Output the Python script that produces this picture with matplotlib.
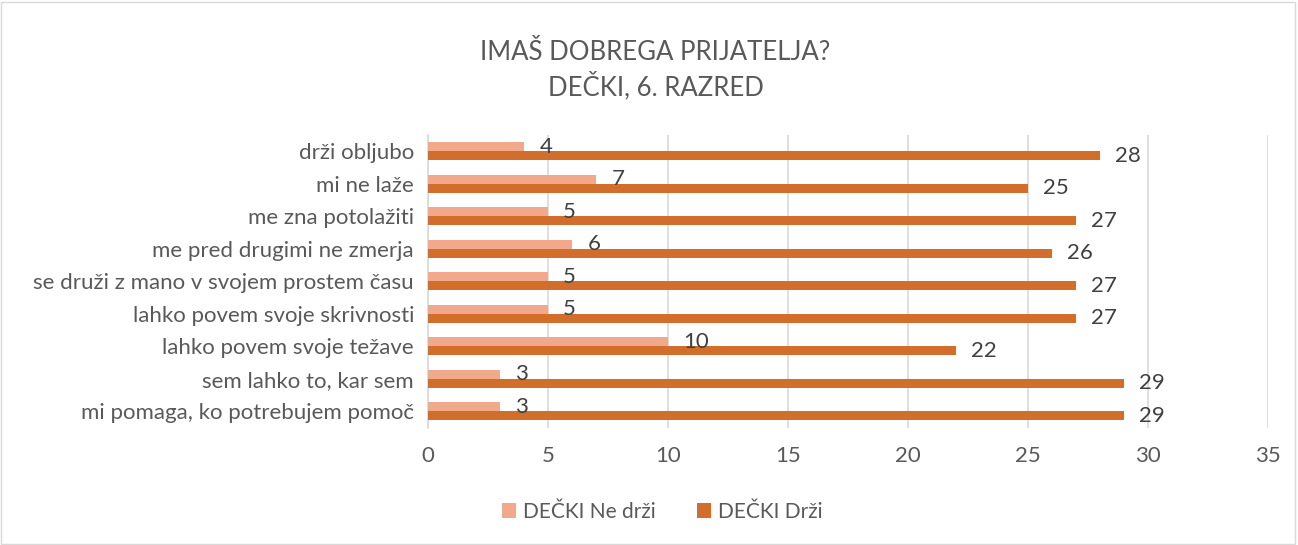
import matplotlib.pyplot as plt
import numpy as np
from matplotlib.patches import Rectangle

categories = ["drži obljubo", "mi ne laže", "me zna potolažiti",
              "me pred drugimi ne zmerja", "se druži z mano v svojem prostem času",
              "lahko povem svoje skrivnosti", "lahko povem svoje težave",
              "sem lahko to, kar sem", "mi pomaga, ko potrebujem pomoč"]
ne_drzi = [4, 7, 5, 6, 5, 5, 10, 3, 3]
drzi = [28, 25, 27, 26, 27, 27, 22, 29, 29]
xticks = [0, 5, 10, 15, 20, 25, 30, 35]

plt.rcParams['font.family'] = ['Lato', 'DejaVu Sans']
txt = '#595959'
c_light = '#F2A88A'
c_dark = '#D26E2B'

fig = plt.figure(figsize=(12.98, 5.45), dpi=100)
ax = fig.add_axes([428/1298, 1-427.5/545, 840/1298, 292.5/545])

y = np.arange(len(categories))
h = 0.28
ax.barh(y - h/2, ne_drzi, height=h, color=c_light, label='DEČKI Ne drži', zorder=3)
ax.barh(y + h/2, drzi, height=h, color=c_dark, label='DEČKI Drži', zorder=3)

for i, v in enumerate(ne_drzi):
    ax.annotate(str(v), (v, i - h/2), xytext=(11, 0), textcoords='offset points',
                va='center', ha='left', fontsize=16, color='#404040', zorder=4)
for i, v in enumerate(drzi):
    ax.annotate(str(v), (v, i + h/2), xytext=(11, 0), textcoords='offset points',
                va='center', ha='left', fontsize=16, color='#404040', zorder=4)

ax.set_xlim(0, 35)
ax.set_ylim(len(categories) - 0.5, -0.5)
ax.set_xticks(xticks)
ax.set_yticks(y)
ax.set_yticklabels(categories, fontsize=16, color=txt)
ax.tick_params(axis='x', labelsize=16, labelcolor=txt, length=0, pad=13)
ax.tick_params(axis='y', length=0, pad=10)
ax.grid(axis='x', color='#D9D9D9', linewidth=1.2, zorder=0)
for s in ['top', 'right', 'bottom']:
    ax.spines[s].set_visible(False)
ax.spines['left'].set_color('#D9D9D9')
ax.spines['left'].set_linewidth(1.2)

fig.text(0.505, 1-52/545, 'IMAŠ DOBREGA PRIJATELJA?', ha='center', va='center',
         fontsize=18.5, color=txt)
fig.text(0.505, 1-86/545, 'DEČKI, 6. RAZRED', ha='center', va='center',
         fontsize=18.5, color=txt)

fig.legend(loc='center', bbox_to_anchor=(0.51, 1-512/545), ncol=2, frameon=False,
           fontsize=15, labelcolor=txt, handlelength=0.7, handleheight=0.7,
           columnspacing=2.0, handletextpad=0.3)

fig.patches.append(Rectangle((0.001, 0.002), 0.997, 0.995, transform=fig.transFigure,
                             fill=False, edgecolor='#D9D9D9', linewidth=1))

fig.savefig('out.png', dpi=100, facecolor='white')
